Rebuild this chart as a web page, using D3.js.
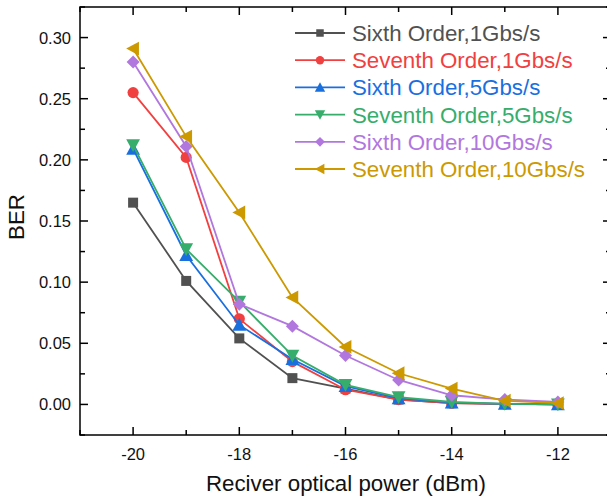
<!DOCTYPE html>
<html><head><meta charset="utf-8">
<script src="https://cdn.jsdelivr.net/npm/d3@7"></script>
<style>body{margin:0;background:#fff;}svg{display:block;font-family:Arial,"Liberation Sans",sans-serif;}</style>
</head><body>
<svg id="c" width="607" height="499"></svg>
<script>
const powers = [-20, -19, -18, -17, -16, -15, -14, -13, -12];
const seriesNames = ["Sixth Order,1Gbs/s","Seventh Order,1Gbs/s","Sixth Order,5Gbs/s","Seventh Order,5Gbs/s","Sixth Order,10Gbs/s","Seventh Order,10Gbs/s"];
const sixth1G   = [0.165, 0.101, 0.054, 0.0215, 0.013, 0.004, 0.001, 0.0005, 0.0];
const seventh1G = [0.255, 0.202, 0.070, 0.035, 0.012, 0.004, 0.001, 0.0003, 0.0];
const sixth5G   = [0.209, 0.122, 0.065, 0.037, 0.015, 0.005, 0.0015, 0.0005, 0.0];
const seventh5G = [0.212, 0.127, 0.084, 0.040, 0.016, 0.006, 0.002, 0.0005, 0.0];
const sixth10G  = [0.280, 0.211, 0.082, 0.064, 0.040, 0.020, 0.0075, 0.004, 0.002];
const seventh10G= [0.291, 0.219, 0.157, 0.0875, 0.047, 0.0255, 0.013, 0.003, 0.001];
const yTicks = [0.00, 0.05, 0.10, 0.15, 0.20, 0.25, 0.30];
const xTicks = [-20, -18, -16, -14, -12];
const colors = ["#515151","#F14040","#1A6FDF","#37AD6B","#B177DE","#CC9900"];
const symbols = ["square","circle","triangle","triangleDown","diamond","triangleLeft"];
const allSeries = [sixth1G, seventh1G, sixth5G, seventh5G, sixth10G, seventh10G];

const svg = d3.select("#c");
const L = 80, R = 611, T = 7, B = 435;
const x = d3.scaleLinear().domain([-21, -11]).range([L, R]);
const y = d3.scaleLinear().domain([-0.025, 0.325]).range([B, T]);

// frame
const ax = svg.append("g").attr("stroke","#000").attr("stroke-width",1.5).attr("fill","none");
ax.append("rect").attr("x",L).attr("y",T).attr("width",R-L).attr("height",B-T);

// ticks
const xMinor = d3.range(-21, -10, 1);
const yMinor = d3.range(-0.025, 0.326, 0.025);
xMinor.forEach(v=>{
  const major = xTicks.includes(v);
  const len = major ? 8 : 5;
  ax.append("line").attr("x1",x(v)).attr("x2",x(v)).attr("y1",B).attr("y2",B-len);
  ax.append("line").attr("x1",x(v)).attr("x2",x(v)).attr("y1",T).attr("y2",T+len);
});
yMinor.forEach(v=>{
  const major = yTicks.some(t=>Math.abs(t-v)<1e-6);
  const len = major ? 8 : 5;
  ax.append("line").attr("x1",L).attr("x2",L+len).attr("y1",y(v)).attr("y2",y(v));
  ax.append("line").attr("x1",R).attr("x2",R-len).attr("y1",y(v)).attr("y2",y(v));
});

// tick labels
svg.append("g").selectAll("text").data(xTicks).join("text")
  .attr("x",d=>x(d)).attr("y",B+25).attr("text-anchor","middle")
  .attr("font-size",16.5).attr("fill","#111").text(d=>d);
svg.append("g").selectAll("text").data(yTicks).join("text")
  .attr("x",L-9).attr("y",d=>y(d)).attr("dy","0.36em").attr("text-anchor","end")
  .attr("font-size",16.5).attr("fill","#111").text(d=>d3.format(".2f")(d));

// axis titles
svg.append("text").attr("x",346).attr("y",491).attr("text-anchor","middle")
  .attr("font-size",22.3).attr("fill","#111").text("Reciver optical power (dBm)");
svg.append("text").attr("transform",`translate(24,${(T+B)/2 - 4}) rotate(-90)`).attr("text-anchor","middle")
  .attr("font-size",22.3).attr("fill","#111").text("BER");

// markers
function drawMarker(g, type, cx, cy, s, color){
  // s = half-size in px
  let p;
  if (type==="square") p = `M${-s},${-s}H${s}V${s}H${-s}Z`;
  else if (type==="circle") p = `M${s},0A${s},${s} 0 1,1 ${-s},0A${s},${s} 0 1,1 ${s},0Z`;
  else if (type==="diamond") { const d=s*1.3; p = `M0,${-d}L${d},0L0,${d}L${-d},0Z`; }
  else if (type==="triangle") { const h=s*1.15; p = `M0,${-h}L${h},${h*0.85}L${-h},${h*0.85}Z`; }
  else if (type==="triangleDown") { const h=s*1.15; p = `M0,${h}L${h},${-h*0.85}L${-h},${-h*0.85}Z`; }
  else if (type==="triangleLeft") { const h=s*1.15; p = `M${-h},0L${h*0.85},${-h}L${h*0.85},${h}Z`; }
  g.append("path").attr("d",p).attr("transform",`translate(${cx},${cy})`).attr("fill",color);
}
const line = d3.line().x((d,i)=>x(powers[i])).y(d=>y(d));
const halfSize = {square:5, circle:5.6, triangle:6, triangleDown:6, diamond:5, triangleLeft:6};
allSeries.forEach((s,k)=>{
  const g = svg.append("g");
  g.append("path").attr("d",line(s)).attr("fill","none").attr("stroke",colors[k]).attr("stroke-width",1.8);
  s.forEach((v,i)=>drawMarker(g, symbols[k], x(powers[i]), y(v), halfSize[symbols[k]], colors[k]));
});

// legend
const lg = svg.append("g");
seriesNames.forEach((n,k)=>{
  const yy = 33 + k*27.2;
  lg.append("line").attr("x1",295).attr("x2",345).attr("y1",yy).attr("y2",yy).attr("stroke",colors[k]).attr("stroke-width",1.8);
  drawMarker(lg, symbols[k], 320, yy, halfSize[symbols[k]]*0.75, colors[k]);
  lg.append("text").attr("x",352).attr("y",yy).attr("dy","0.36em").attr("font-size",22.3).attr("fill",colors[k]).text(n);
});
</script>
</body></html>
